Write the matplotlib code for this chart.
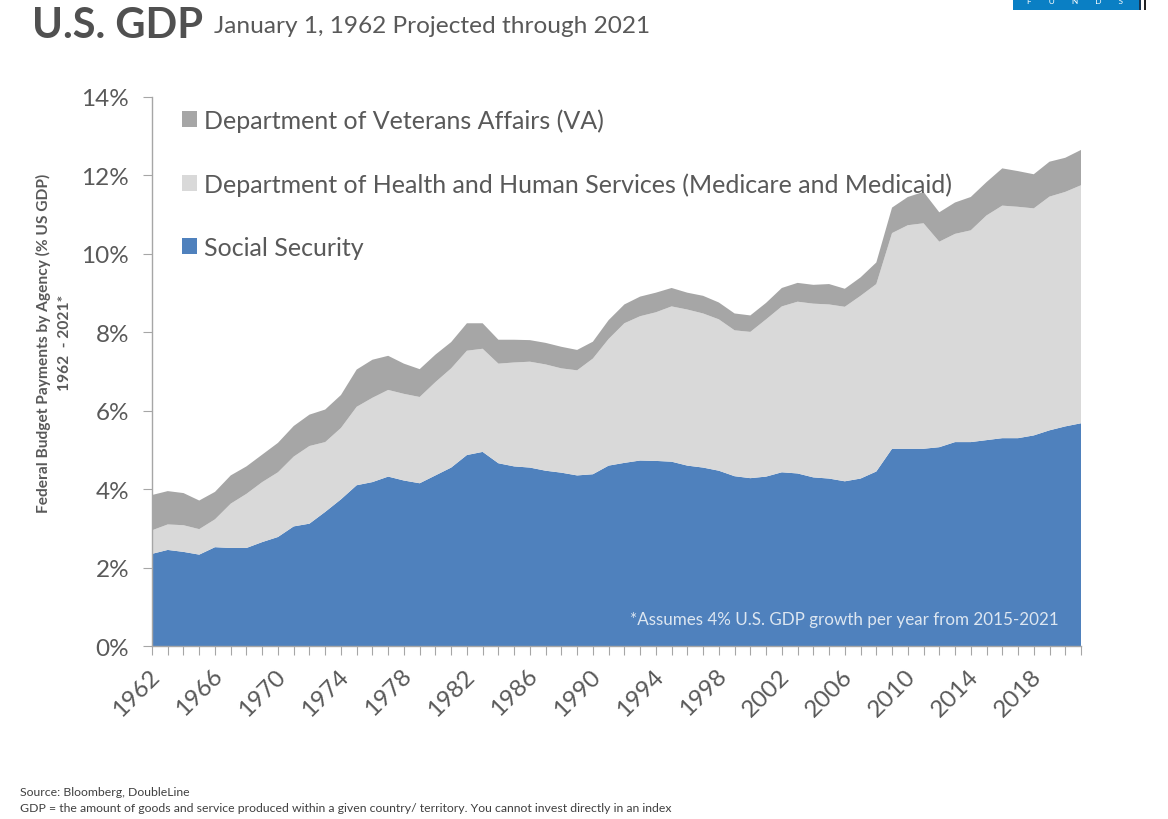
import matplotlib
matplotlib.use("Agg")
import matplotlib.pyplot as plt
from matplotlib.patches import Rectangle
from matplotlib.ticker import FuncFormatter, MultipleLocator
from matplotlib.transforms import ScaledTranslation

years = list(range(1962, 2022))
social_security = [2.35,2.45,2.40,2.33,2.52,2.50,2.50,2.65,2.78,3.05,3.12,3.42,3.74,4.10,4.18,4.32,4.22,4.15,4.35,4.55,
                   4.87,4.95,4.66,4.58,4.55,4.47,4.42,4.35,4.38,4.60,4.67,4.73,4.72,4.70,4.60,4.55,4.47,4.33,4.28,4.32,
                   4.43,4.40,4.30,4.27,4.20,4.27,4.45,5.03,5.03,5.03,5.07,5.20,5.20,5.25,5.30,5.30,5.37,5.50,5.60,5.68]
health_human = [0.60,0.65,0.68,0.65,0.71,1.13,1.38,1.53,1.65,1.78,1.98,1.78,1.82,2.00,2.15,2.21,2.21,2.20,2.38,2.53,
                2.66,2.63,2.54,2.65,2.70,2.71,2.66,2.68,2.95,3.23,3.56,3.68,3.79,3.96,3.98,3.93,3.86,3.72,3.73,4.01,
                4.23,4.38,4.43,4.44,4.45,4.66,4.78,5.50,5.70,5.75,5.24,5.31,5.40,5.73,5.93,5.90,5.79,5.96,5.98,6.07]
veterans = [0.90,0.85,0.82,0.73,0.70,0.72,0.70,0.70,0.75,0.78,0.80,0.83,0.84,0.95,0.97,0.87,0.77,0.71,0.70,0.67,
            0.70,0.65,0.61,0.58,0.55,0.55,0.55,0.52,0.43,0.48,0.48,0.50,0.50,0.47,0.43,0.45,0.43,0.43,0.42,0.42,
            0.47,0.48,0.48,0.52,0.46,0.47,0.55,0.65,0.72,0.80,0.75,0.80,0.85,0.85,0.95,0.91,0.87,0.89,0.87,0.90]
series_labels = ["Social Security", "Department of Health and Human Services (Medicare and Medicaid)",
                 "Department of Veterans Affairs (VA)"]
series_colors = ["#4F81BD", "#D9D9D9", "#A6A6A6"]
label_years = list(range(1962, 2022, 4))

plt.rcParams["font.family"] = ["Lato", "DejaVu Sans"]
TEXT = "#595959"
W, H = 1168, 820
fig = plt.figure(figsize=(W/100, H/100), dpi=100, facecolor="white")
ax = fig.add_axes([152/W, 1-647/H, (1081-152)/W, (647-98)/H])

ax.stackplot(years, social_security, health_human, veterans,
             colors=series_colors, labels=series_labels, linewidth=0)
ax.set_xlim(1962, 2021)
ax.set_ylim(0, 14)

for s in ("top", "right"):
    ax.spines[s].set_visible(False)
for s in ("left", "bottom"):
    ax.spines[s].set_color("#A6A6A6")
    ax.spines[s].set_linewidth(1.0)

ax.yaxis.set_major_locator(MultipleLocator(2))
ax.yaxis.set_major_formatter(FuncFormatter(lambda v, _: f"{v:.0f}%"))
ax.tick_params(axis="y", length=6.5, width=0.8, color="#A6A6A6", labelcolor=TEXT, labelsize=17.5, pad=10)
ax.set_xticks(years)
ax.set_xticklabels([str(y) if y in label_years else "" for y in years],
                   rotation=45, ha="right", rotation_mode="anchor")
ax.tick_params(axis="x", length=6.5, width=0.8, color="#A6A6A6", labelcolor=TEXT, labelsize=17.5, pad=7)
shift = ScaledTranslation(-3/100, 0, fig.dpi_scale_trans)
for t in ax.get_xticklabels():
    t.set_transform(t.get_transform() + shift)

fig.text(43/W, 1-343/H, "Federal Budget Payments by Agency (% US GDP)", rotation=90, fontsize=11.2,
         fontweight="bold", color=TEXT, ha="center", va="center")
fig.text(65/W, 1-343/H, "1962  - 2021*", rotation=90, fontsize=11.2,
         fontweight="bold", color=TEXT, ha="center", va="center")

h, l = ax.get_legend_handles_labels()
ax.legend(h[::-1], l[::-1], loc="upper left", bbox_to_anchor=(22/929, 1-4/549), frameon=False,
          fontsize=18, labelcolor=TEXT, handlelength=0.62, handleheight=0.62, handletextpad=0.3,
          labelspacing=1.6, borderpad=0.3, borderaxespad=0)

fig.text(1059/W, 1-620/H, "*Assumes 4% U.S. GDP growth per year from 2015-2021",
         ha="right", va="center", color="#DCE6F1", fontsize=12.25)
fig.text(32/W, 1-38/H, "U.S. GDP", fontsize=30, fontweight="bold", color="#505050", ha="left", va="baseline")
fig.text(214/W, 1-33/H, "January 1, 1962 Projected through 2021", fontsize=17.6, color=TEXT, ha="left", va="baseline")
fig.text(20/W, 1-793/H, "Source: Bloomberg, DoubleLine", fontsize=8.82, color="#404040", ha="left", va="center")
fig.text(20/W, 1-809/H, "GDP = the amount of goods and service produced within a given country/ territory. You cannot invest directly in an index",
         fontsize=8.82, color="#404040", ha="left", va="center")

fig.patches.append(Rectangle((1013/W, 1-11/H), 126/W, 11/H, transform=fig.transFigure, facecolor="#0A7FC4", edgecolor="none"))
fig.patches.append(Rectangle((1139/W, 1-11/H), 2/W, 11/H, transform=fig.transFigure, facecolor="#1A3550", edgecolor="none"))
fig.patches.append(Rectangle((1144/W, 1-11/H), 2/W, 11/H, transform=fig.transFigure, facecolor="#222222", edgecolor="none"))
fig.text(1075/W, 1-2/H, (" " * 8).join("FUNDS"), fontsize=6, color="white", ha="center", va="center")

fig.savefig("out.png", dpi=100)
